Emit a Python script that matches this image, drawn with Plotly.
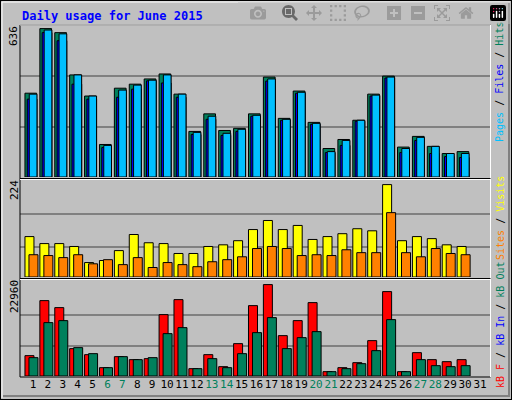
import plotly.graph_objects as go

days = list(range(1, 32))
weekend = [6, 7, 13, 14, 20, 21, 27, 28]
hits = [353, 625, 608, 430, 341, 137, 374, 391, 413, 434, 349, 192, 266, 196, 205, 266, 421, 247, 362, 230, 120, 158, 239, 349, 425, 126, 171, 129, 99, 107]
files = [349, 619, 603, 430, 341, 133, 366, 387, 408, 430, 349, 188, 256, 184, 201, 260, 413, 243, 357, 226, 107, 154, 239, 345, 421, 120, 167, 129, 99, 99]
pages = [328, 608, 574, 391, 328, 124, 336, 370, 405, 396, 336, 179, 243, 175, 192, 256, 404, 239, 353, 222, 103, 133, 235, 341, 417, 103, 154, 99, 86, 82]
visits = [98, 81, 81, 74, 35, 40, 64, 103, 83, 81, 57, 57, 74, 78, 88, 115, 137, 115, 125, 91, 98, 105, 117, 112, 224, 88, 98, 93, 78, 74]
sites = [54, 52, 47, 54, 32, 42, 30, 47, 23, 35, 30, 25, 37, 42, 49, 69, 74, 69, 52, 54, 52, 66, 59, 59, 156, 59, 49, 69, 57, 54]
kb_f = [5112, 18939, 17179, 6872, 5363, 2095, 4860, 4106, 4358, 15419, 19190, 1844, 5363, 2346, 8129, 17682, 22960, 10140, 13911, 18436, 1089, 2095, 3352, 8883, 21201, 1089, 5866, 4106, 3603, 4106]
kb_out = [4609, 13408, 13911, 7123, 5615, 2095, 4860, 4106, 4609, 10643, 12151, 1844, 4358, 2095, 5615, 10894, 14665, 6872, 9637, 11145, 1089, 1844, 3101, 6369, 14162, 1089, 4106, 2598, 2346, 2598]
max_hits, max_visits, max_kb = 636, 224, 22960
title = "Daily usage for June 2015"

W, H = 512, 400
bg = "#C0C0C0"
GREEN, BLUE, CYAN = "#00805c", "#0000ff", "#00c0ff"
YEL, ORA, RED = "#ffff00", "#ff8000", "#ff0000"
MONO = "DejaVu Sans Mono"
px = 1 / 14.9
x = days[:len(hits)]

def bar(vals, color, off, wid, xa, ya):
    return go.Bar(x=x, y=vals, marker=dict(color=color, line=dict(color="black", width=1)),
                  offset=off * px, width=wid * px, xaxis=xa, yaxis=ya, showlegend=False, hoverinfo="skip")

fig = go.Figure()
fig.add_trace(bar(hits, GREEN, -8, 11.7, "x", "y"))
fig.add_trace(bar(pages, BLUE, -5.7, 9.7, "x", "y"))
fig.add_trace(bar(files, CYAN, -3.7, 7.7, "x", "y"))
fig.add_trace(bar(visits, YEL, -8, 9, "x2", "y2"))
fig.add_trace(bar(sites, ORA, -4, 9, "x2", "y2"))
fig.add_trace(bar(kb_f, RED, -8, 9, "x3", "y3"))
fig.add_trace(bar(kb_out, GREEN, -4, 9, "x3", "y3"))

def dom(top, bot):
    return [1 - bot / H, 1 - top / H]

xr = [0.13, 31.67]
xd = [20 / W, 490 / W]
ticktext = [f"<span style='color:{GREEN}'>{d}</span>" if d in weekend else str(d) for d in days]
common_x = dict(range=xr, domain=xd, showgrid=False, zeroline=False)
grid = dict(showgrid=True, gridcolor="#808080", gridwidth=1.5, showticklabels=False, zeroline=False, ticks="")
fig.update_layout(
    width=W, height=H, margin=dict(l=0, r=0, t=0, b=0),
    paper_bgcolor=bg, plot_bgcolor=bg, barmode="overlay",
    xaxis=dict(**common_x, anchor="y", showticklabels=False),
    xaxis2=dict(**common_x, anchor="y2", showticklabels=False),
    xaxis3=dict(**common_x, anchor="y3", tickmode="array", tickvals=days, ticktext=ticktext, tickangle=0,
                tickfont=dict(family=MONO, size=11, color="black"), ticks="", ticklen=0),
    yaxis=dict(domain=dom(25, 177), range=[0, max_hits * 152 / 151], tickvals=[max_hits / 3, max_hits * 2 / 3], **grid),
    yaxis2=dict(domain=dom(179, 277), range=[0, max_visits * 98 / 92.4], tickvals=[max_visits * 0.33, max_visits * 0.685], **grid),
    yaxis3=dict(domain=dom(279, 376), range=[0, max_kb * 97 / 91.4], tickvals=[max_kb / 3, max_kb * 2 / 3], **grid),
    font=dict(family=MONO),
)

shapes = []
def rect(x0, y0, x1, y1, color, w=1):
    shapes.append(dict(type="rect", xref="paper", yref="paper", x0=x0 / W, x1=x1 / W,
                       y0=1 - y1 / H, y1=1 - y0 / H, line=dict(color=color, width=w)))
def line(x0, y0, x1, y1, color, w=1):
    shapes.append(dict(type="line", xref="paper", yref="paper", x0=x0 / W, x1=x1 / W,
                       y0=1 - y0 / H, y1=1 - y1 / H, line=dict(color=color, width=w)))
rect(20, 25, 490.5, 377, "black", 1)
line(20, 25, 490.5, 25, "white", 1)
line(490.5, 25, 490.5, 377, "white", 1)
for y0 in (178.5, 278.5):
    line(20, y0, 490.5, y0, "black", 1)
    line(20, y0 + 1, 490.5, y0 + 1, "white", 1)
line(2, 2, 510, 2, "white", 1)
line(2, 2, 2, 398, "white", 1)
line(3, 396, 510, 396, "#808080", 2)
line(509, 3, 509, 396, "#808080", 2)
rect(0, 0, 512, 400, "black", 2)
fig.update_layout(shapes=shapes)

ann = []
ann.append(dict(text=f"<b>{title}</b>", x=20 / W, y=1 - 16 / H, xanchor="left", yanchor="middle",
                font=dict(family=MONO, size=12, color="#0000ff")))
for txt, yc in ((str(max_hits), 36), (str(max_visits), 190), (str(max_kb), 297)):
    ann.append(dict(text=txt, x=14 / W, y=1 - yc / H, textangle=-90, xanchor="center", yanchor="middle",
                    font=dict(family=MONO, size=11, color="black")))
def sp(t, c):
    return f"<span style='color:{c}'>{t}</span>"
side = [
    (sp("Pages", CYAN) + " / " + sp("Files", BLUE) + " / " + sp("Hits", GREEN), 82),
    (sp("Sites", ORA) + " / " + sp("Visits", YEL), 218),
    (sp("kB F", RED) + " / " + sp("kB In", BLUE) + " / " + sp("kB Out", GREEN), 325),
]
for txt, yc in side:
    ann.append(dict(text=txt, x=500 / W, y=1 - yc / H, textangle=-90, xanchor="center", yanchor="middle",
                    font=dict(family=MONO, size=10, color="black")))
for a in ann:
    a.update(xref="paper", yref="paper", showarrow=False)
fig.update_layout(annotations=ann)

fig.write_html("out.html", post_script="document.body.style.margin='0';document.body.style.overflow='hidden';")
